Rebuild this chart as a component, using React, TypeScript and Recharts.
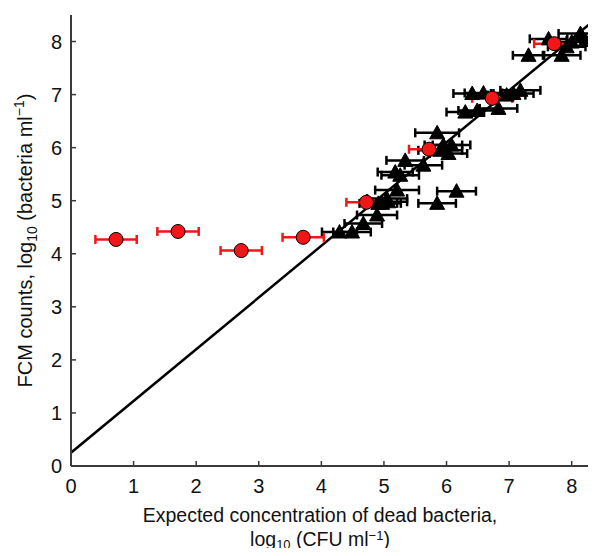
import React from "react";
import {
  ScatterChart,
  Scatter,
  XAxis,
  YAxis,
  ErrorBar,
  ReferenceLine,
} from "recharts";

// Red circles: series with a plateau at low concentrations
const circleX = [0.72, 1.71, 2.72, 3.71, 4.72, 5.72, 6.73, 7.72];
const circleY = [4.27, 4.42, 4.06, 4.31, 4.97, 5.97, 6.93, 7.96];
const circleErr = [0.33, 0.33, 0.33, 0.33, 0.32, 0.32, 0.32, 0.32];

// Black triangles: series that follows the diagonal
const triX = [
  4.29, 4.49, 4.67, 4.89, 4.91, 4.97, 5.05, 5.07, 5.21, 5.18, 5.26, 5.34,
  5.63, 5.85, 5.9, 5.95, 6.03, 6.08, 5.85, 6.16, 6.3, 6.49, 6.41, 6.59,
  6.83, 6.96, 7.07, 7.18, 7.31, 7.63, 7.84, 7.92, 8.0, 8.14, 8.22,
];
const triY = [
  4.41, 4.41, 4.57, 4.73, 4.95, 4.95, 5.04, 4.98, 5.2, 5.54, 5.48, 5.76,
  5.67, 6.28, 5.95, 6.05, 5.89, 6.05, 4.95, 5.18, 6.67, 6.7, 7.02, 7.03,
  6.74, 6.99, 7.02, 7.08, 7.74, 8.05, 7.74, 7.9, 7.99, 8.15, 8.02,
];
const triErr = [
  0.28, 0.3, 0.3, 0.32, 0.3, 0.3, 0.32, 0.3, 0.35, 0.28, 0.3, 0.3,
  0.3, 0.35, 0.35, 0.3, 0.3, 0.3, 0.3, 0.31, 0.3, 0.3, 0.3, 0.3,
  0.3, 0.3, 0.32, 0.32, 0.25, 0.3, 0.3, 0.3, 0.3, 0.35, 0.3,
];

// Fitted line endpoints
const fitStart = { x: 0, y: 0.25 };
const fitEnd = { x: 8.5, y: 8.54 };

const axisTicks = [0, 1, 2, 3, 4, 5, 6, 7, 8];

const circleData = circleX.map((x, i) => ({ x, y: circleY[i], ex: circleErr[i] }));
const triData = triX.map((x, i) => ({ x, y: triY[i], ex: triErr[i] }));

const FONT = "'Liberation Sans', Arial, Helvetica, sans-serif";
const AXIS = "#3a3a3a";
const RED = "#f21616";
const FS = 20;

const BottomTick = (props: any) => {
  const { x, y, payload } = props;
  return (
    <g>
      <line x1={x} y1={y} x2={x} y2={y - 5} stroke={AXIS} strokeWidth={1.5} />
      <text x={x} y={y + 27} textAnchor="middle" fontFamily={FONT} fontSize={FS} fill="#111">
        {payload.value}
      </text>
    </g>
  );
};

const TopTick = (props: any) => {
  const { x, y } = props;
  return <line x1={x} y1={y} x2={x} y2={y + 5} stroke={AXIS} strokeWidth={1.5} />;
};

const LeftTick = (props: any) => {
  const { x, y, payload } = props;
  return (
    <g>
      <line x1={x} y1={y} x2={x + 5} y2={y} stroke={AXIS} strokeWidth={1.5} />
      <text x={x - 9} y={y + 7} textAnchor="end" fontFamily={FONT} fontSize={FS} fill="#111">
        {payload.value}
      </text>
    </g>
  );
};

const YTitle = (props: any) => {
  const { viewBox } = props;
  const cy = viewBox.y + viewBox.height / 2;
  const cx = 32;
  return (
    <text
      transform={`translate(${cx},${cy}) rotate(-90)`}
      textAnchor="middle"
      fontFamily={FONT}
      fontSize={FS}
      fill="#111"
    >
      FCM counts, log
      <tspan fontSize={14} dy={5}>10</tspan>
      <tspan dy={-5}> (bacteria ml</tspan>
      <tspan fontSize={14} dy={-8}>−1</tspan>
      <tspan dy={8}>)</tspan>
    </text>
  );
};

const XTitle = () => {
  const cx = 320;
  const fs = 19.5;
  return (
    <g>
      <text x={cx} y={522} textAnchor="middle" fontFamily={FONT} fontSize={fs} fill="#111">
        Expected concentration of dead bacteria,
      </text>
      <text x={cx} y={546} textAnchor="middle" fontFamily={FONT} fontSize={fs} fill="#111">
        log
        <tspan fontSize={13} dy={3}>10</tspan>
        <tspan dy={-3}> (CFU ml</tspan>
        <tspan fontSize={13} dy={-6}>−1</tspan>
        <tspan dy={6}>)</tspan>
      </text>
    </g>
  );
};

const Triangle = (props: any) => {
  const { cx, cy } = props;
  if (cx == null || cy == null) return null;
  const pts = `${cx},${cy - 7.5} ${cx - 7.5},${cy + 6} ${cx + 7.5},${cy + 6}`;
  return <polygon points={pts} fill="#000" stroke="#000" strokeWidth={1} />;
};

const Dot = (props: any) => {
  const { cx, cy } = props;
  if (cx == null || cy == null) return null;
  return <circle cx={cx} cy={cy} r={7} fill={RED} stroke="#000" strokeWidth={1} />;
};

export default function App() {
  return (
    <div
      style={{
        width: 596,
        height: 556,
        margin: -8,
        overflow: "hidden",
        position: "relative",
        background: "#fff",
      }}
    >
      <ScatterChart
        width={610}
        height={556}
        margin={{ top: 15, right: 7, bottom: 0, left: 0 }}
      >
        <XAxis
          xAxisId="bottom"
          type="number"
          dataKey="x"
          domain={[0, 8.5]}
          ticks={axisTicks}
          allowDataOverflow
          height={90}
          tickSize={0}
          tickMargin={0}
          tickLine={false}
          tick={<BottomTick />}
          axisLine={{ stroke: AXIS, strokeWidth: 2 }}
          label={<XTitle />}
        />
        <XAxis
          xAxisId="top"
          orientation="top"
          type="number"
          dataKey="x"
          domain={[0, 8.5]}
          ticks={axisTicks}
          allowDataOverflow
          height={0}
          tickSize={0}
          tickMargin={0}
          tickLine={false}
          tick={<TopTick />}
          axisLine={{ stroke: AXIS, strokeWidth: 2 }}
        />
        <YAxis
          type="number"
          dataKey="y"
          domain={[0, 8.5]}
          ticks={axisTicks}
          allowDataOverflow
          width={71}
          tickSize={0}
          tickMargin={0}
          tickLine={false}
          tick={<LeftTick />}
          axisLine={{ stroke: AXIS, strokeWidth: 2 }}
          label={<YTitle />}
        />
        <ReferenceLine
          xAxisId="bottom"
          segment={[fitStart, fitEnd]}
          stroke="#000"
          strokeWidth={2.5}
          ifOverflow="hidden"
        />
        <Scatter
          xAxisId="bottom"
          data={triData}
          shape={<Triangle />}
          isAnimationActive={false}
        >
          <ErrorBar dataKey="ex" direction="x" width={4.5} stroke="#000" strokeWidth={2.5} />
        </Scatter>
        <Scatter
          xAxisId="bottom"
          data={circleData}
          shape={<Dot />}
          isAnimationActive={false}
        >
          <ErrorBar dataKey="ex" direction="x" width={4.5} stroke={RED} strokeWidth={2.5} />
        </Scatter>
      </ScatterChart>
    </div>
  );
}
